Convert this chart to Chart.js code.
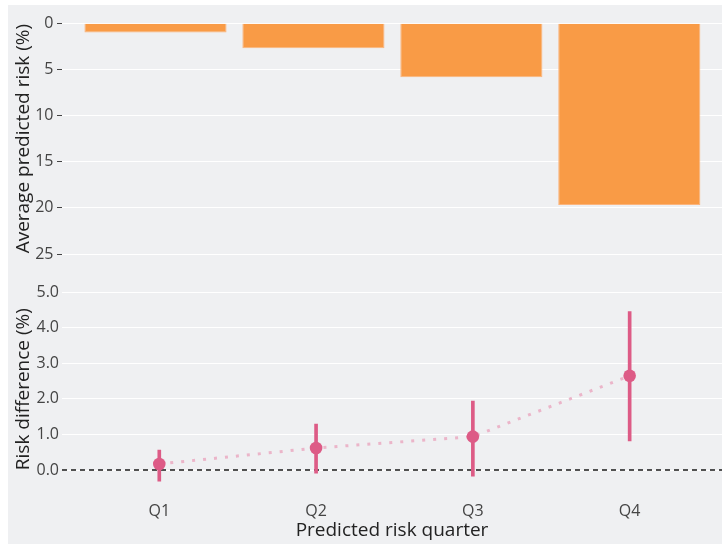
<!DOCTYPE html>
<html>
<head>
<meta charset="utf-8">
<script src="https://cdn.jsdelivr.net/npm/chart.js@4.4.0/dist/chart.umd.min.js"></script>
<style>
  html, body { margin: 0; padding: 0; background: #ffffff; }
  #panel { position: absolute; left: 8px; top: 5px; width: 714px; height: 539px; background: #eff0f2; }
  canvas { position: absolute; left: 0; top: 0; }
</style>
</head>
<body>
<div id="panel"></div>
<canvas id="riskChart" width="722" height="280"></canvas>
<canvas id="diffChart" width="722" height="544"></canvas>
<script>
// Predicted risk quarters
const quarters = ['Q1', 'Q2', 'Q3', 'Q4'];

// Average predicted risk per quarter (%)
const avgRisk = [1.0, 2.7, 5.85, 19.7];

// Risk difference per quarter (%) with confidence limits
const riskDiff = [0.17, 0.62, 0.94, 2.65];
const ciLow = [-0.31, -0.09, -0.17, 0.82];
const ciHigh = [0.56, 1.29, 1.94, 4.46];

// Tick values
const riskTicks = [0, 5, 10, 15, 20, 25];
const diffTicks = [0, 1, 2, 3, 4, 5];

const FONT = '"Open Sans", "DejaVu Sans", sans-serif';
const TICK_COLOR = '#444444';
const TITLE_COLOR = '#222222';
const TITLE_SIZE = 19;
const PAD_LEFT = 12.6;
const AXIS_LEFT = 62;

// one tick per quarter on the category axis
const quarterTicks = s => { s.ticks = quarters.map((q, i) => ({ value: i })); };
// keep the plot area flush with the canvas edges
const noSidePadding = s => { s.paddingLeft = 0; s.paddingRight = 0; };

// Top panel: bars hanging down from zero
new Chart(document.getElementById('riskChart'), {
  type: 'bar',
  data: {
    datasets: [{
      data: avgRisk.map((v, i) => ({ x: i, y: v })),
      backgroundColor: '#f99b46',
      borderColor: '#fbb47c',
      borderWidth: 1,
      categoryPercentage: 0.9,
      barPercentage: 1.0
    }]
  },
  options: {
    responsive: false,
    animation: false,
    layout: { autoPadding: false, padding: { left: PAD_LEFT, top: 23.3, right: 0, bottom: 26 } },
    plugins: { legend: { display: false }, tooltip: { enabled: false } },
    scales: {
      x: {
        type: 'linear', display: false, offset: false,
        min: -0.592, max: 3.587,
        afterBuildTicks: quarterTicks,
        grid: { offset: false }
      },
      y: {
        min: 0, max: 25, reverse: true,
        afterBuildTicks: s => { s.ticks = riskTicks.map(v => ({ value: v })); },
        afterFit: s => { s.width = AXIS_LEFT - PAD_LEFT; },
        grid: { color: '#ffffff', lineWidth: 1, drawTicks: true, tickLength: 5, tickColor: TICK_COLOR, tickWidth: 1 },
        border: { display: false },
        ticks: { padding: 3.5, color: TICK_COLOR, font: { family: FONT, size: 16 } },
        title: {
          display: true, text: 'Average predicted risk (%)', color: TITLE_COLOR,
          font: { family: FONT, size: TITLE_SIZE }, padding: 0
        }
      }
    }
  }
});

// Bottom panel: risk difference with confidence intervals
const X2_MIN = -0.6205, X2_MAX = 3.589;

new Chart(document.getElementById('diffChart'), {
  type: 'bar',
  data: {
    datasets: [
      {
        type: 'scatter',
        data: riskDiff.map((v, i) => ({ x: i, y: v })),
        pointRadius: 6.3,
        pointBackgroundColor: '#dd5b86',
        pointBorderWidth: 0,
        order: 0
      },
      {
        type: 'bar',
        data: ciLow.map((lo, i) => ({ x: i, y: [lo, ciHigh[i]] })),
        backgroundColor: '#dd5b86',
        borderWidth: 0,
        barThickness: 3,
        order: 1
      },
      {
        type: 'line',
        data: riskDiff.map((v, i) => ({ x: i, y: v })),
        borderColor: '#ebb5c9',
        borderWidth: 3,
        borderDash: [3, 8],
        pointRadius: 0,
        fill: false,
        tension: 0,
        order: 2
      },
      {
        type: 'line',
        data: [{ x: X2_MIN, y: 0 }, { x: X2_MAX, y: 0 }],
        borderColor: '#1a1a1a',
        borderWidth: 1.5,
        borderDash: [5, 4],
        pointRadius: 0,
        fill: false,
        order: 3
      }
    ]
  },
  options: {
    responsive: false,
    animation: false,
    layout: { autoPadding: false, padding: { left: PAD_LEFT, top: 290.5, right: 0, bottom: 0 } },
    plugins: { legend: { display: false }, tooltip: { enabled: false } },
    scales: {
      x: {
        type: 'linear', offset: false,
        min: X2_MIN, max: X2_MAX,
        afterBuildTicks: quarterTicks,
        afterFit: s => { s.height = 56.2; noSidePadding(s); },
        grid: { display: false, drawTicks: false, offset: false },
        border: { display: false },
        ticks: {
          padding: 14.4, color: TICK_COLOR, autoSkip: false, maxRotation: 0,
          font: { family: FONT, size: 16 },
          callback: v => quarters[v]
        },
        title: {
          display: true, text: 'Predicted risk quarter', color: TITLE_COLOR,
          font: { family: FONT, size: TITLE_SIZE }, padding: { top: 0, bottom: 1.6 }
        }
      },
      y: {
        min: -0.5, max: 5.05,
        afterBuildTicks: s => { s.ticks = diffTicks.map(v => ({ value: v })); },
        afterFit: s => { s.width = AXIS_LEFT - PAD_LEFT; },
        grid: { color: '#ffffff', lineWidth: 1, drawTicks: false },
        border: { display: false },
        ticks: {
          padding: 3, color: TICK_COLOR,
          font: { family: FONT, size: 16 },
          callback: v => Number(v).toFixed(1)
        },
        title: {
          display: true, text: 'Risk difference (%)', color: TITLE_COLOR,
          font: { family: FONT, size: TITLE_SIZE }, padding: 0
        }
      }
    }
  }
});
</script>
</body>
</html>
